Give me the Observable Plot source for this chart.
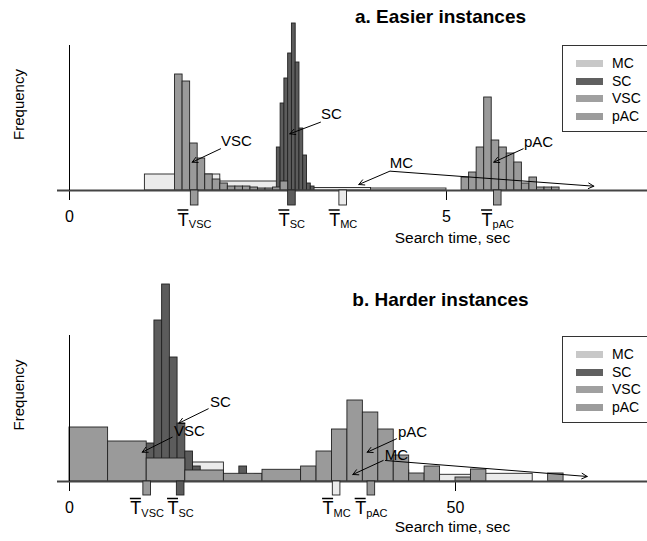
<!DOCTYPE html>
<html><head><meta charset="utf-8">
<script src="https://cdn.jsdelivr.net/npm/d3@7"></script>
<script src="https://cdn.jsdelivr.net/npm/@observablehq/plot@0.6"></script>
<style>
body{margin:0;background:#fff;}
#wrap{position:relative;width:647px;height:541px;overflow:hidden;font-family:"Liberation Sans",Arial,sans-serif;background:#fff;}
#wrap svg{display:block;}
.legend{position:absolute;left:562px;width:120px;height:87px;border:1px solid #333;box-sizing:border-box;background:#fff;}
.legend .row{position:absolute;left:0;height:16px;width:120px;}
.legend .sw{position:absolute;left:13px;top:5px;width:27px;height:7px;}
.legend .lb{position:absolute;left:49px;top:0;font-size:14px;line-height:16px;color:#000;}
</style></head><body><div id="wrap"></div><script>
// ---------- data: panel a (easier instances), search time in sec ----------
const aMcEdges = [1, 2, 3, 4, 5];
const aMcCounts = [16, 9, 2.5, 2];
const aScStart = 2.75, aScWidth = 0.05;
const aScCounts = [43, 87, 112, 137, 167, 128, 62, 35, 7, 4];
const aVscStart = 1.4, aVscWidth = 0.1;
const aVscCounts = [116, 109, 47, 32, 16, 11, 7, 4, 4, 4, 3, 2, 2, 3, 9];
const aPacStart = 5.2, aPacWidth = 0.1;
const aPacCounts = [13, 18, 43, 93, 50, 43, 37, 28, 7, 13, 3, 3, 3];
const aMeans = [1.66, 2.95, 3.63, 5.68];
const aTicks = [0, 5];
const aLabels = [["VSC", 2.215, 49], ["SC", 3.475, 76], ["MC", 4.403, 27], ["pAC", 6.22, 48]];
const aArrows = [[2.003, 41.7, 1.627, 28.3], [3.329, 68.3, 2.922, 56.7], [4.248, 19.3, 3.837, 6], [4.257, 19.3, 6.954, 4.3], [6.017, 41.7, 5.627, 28.3]];

// ---------- data: panel b (harder instances) ----------
const bMcEdges = [16, 20, 24, 28, 32, 36, 40, 44, 48, 52, 60];
const bMcCounts = [19, 6, 7, 10, 13, 14, 11, 6, 6.7, 7.7];
const bScStart = 10, bScWidth = 1;
const bScCounts = [38, 161, 197, 124, 58, 30, 15, 9, 7, 6, 5, 4, 15, 3];
const bVscStart = 0, bVscWidth = 5;
const bVscCounts = [54, 40, 23, 11, 7.7, 11.7];
const bPacStart = 30, bPacWidth = 2;
const bPacCounts = [15, 30, 52, 81, 69, 52, 26, 8, 15, 0, 4, 12, 0, 0, 0, 0, 8];
const bMeans = [10.06, 14.4, 34.6, 39.1];
const bTicks = [0, 50];
const bLabels = [["SC", 19.56, 79], ["VSC", 15.54, 50], ["pAC", 44.43, 49], ["MC", 42.36, 26]];
const bArrows = [[17.97, 72.7, 14.16, 58.3], [13.3, 44.3, 9.42, 29.3], [42.36, 42.7, 38.56, 29.3], [40.63, 21, 36.7, 7], [40.93, 21, 67.06, 5]];

const meanNames = ["VSC", "SC", "MC", "pAC"];
const legendNames = ["MC", "SC", "VSC", "pAC"];
const legendColors = ["#c8c8c8", "#606060", "#a0a0a0", "#9c9c9c"];
const barFill = {MC: "#ebebeb", SC: "#5c5c5c", VSC: "#9a9a9a", pAC: "#9a9a9a"};

function fromStart(start, width, counts) {
  return counts.map((c, i) => ({x1: start + i * width, x2: start + (i + 1) * width, y: c})).filter(d => d.y > 0);
}
function fromEdges(edges, counts) {
  return counts.map((c, i) => ({x1: edges[i], x2: edges[i + 1], y: c})).filter(d => d.y > 0);
}
const charW = {V: .667, S: .667, C: .722, M: .833, p: .556, A: .667};

function panel(o) {
  const plotW = 647, ml = 69;
  const ppu = (plotW - ml) / o.xmax;
  const means = meanNames.map((n, i) => {
    const subW = [...n].reduce((s, ch) => s + charW[ch] * 11, 0);
    const tot = 11 + subW;
    const xT = o.means[i] - tot / 2 / ppu;
    return {n, m: o.means[i], xT, xS: xT + 11 / ppu, xE: xT + 11 / ppu};
  });
  const hw = 3.8 / ppu;
  const rectOpts = (fill) => ({x1: "x1", x2: "x2", y1: 0, y2: "y", fill, stroke: "#222", strokeWidth: 0.9});
  return Plot.plot({
    width: plotW, height: o.height,
    marginLeft: ml, marginRight: 0, marginTop: o.mt, marginBottom: o.mb,
    x: {domain: [0, o.xmax], ticks: o.ticks, tickSize: 10, tickPadding: 10, tickFormat: d => String(d), label: null},
    y: {domain: [0, o.ymax], axis: null},
    color: {type: "identity"},
    style: {fontFamily: "Liberation Sans, Arial, sans-serif", fontSize: "16px", color: "#000", background: "transparent", overflow: "visible"},
    marks: [
      Plot.rect(o.mc, rectOpts(barFill.MC)),
      Plot.rect(o.sc, rectOpts(barFill.SC)),
      Plot.rect(o.vsc, rectOpts(barFill.VSC)),
      Plot.rect(o.pac, rectOpts(barFill.pAC)),
      Plot.ruleY([0], {x1: -12 / ppu, x2: o.xmax, stroke: "#444", strokeWidth: 2}),
      Plot.ruleX([0], {y1: 0, y2: o.ymax, stroke: "#000", strokeWidth: 1}),
      Plot.rect(means, {x1: d => d.m - hw, x2: d => d.m + hw, y1: 0, y2: -o.meanH,
        fill: d => barFill[d.n], stroke: "#222", strokeWidth: 0.9}),
      Plot.text(means, {x: "xT", y: 0, text: () => "T", textAnchor: "start", lineAnchor: "middle", dy: o.tDy, fontSize: 18}),
      Plot.ruleY(means, {y: 0, x1: "xT", x2: "xE", dy: o.tDy - 10, stroke: "#000", strokeWidth: 1.5}),
      Plot.text(means, {x: "xS", y: 0, text: "n", textAnchor: "start", lineAnchor: "middle", dy: o.tDy + 4.5, fontSize: 11}),
      Plot.arrow(o.arrows, {x1: d => d[0], y1: d => d[1], x2: d => d[2], y2: d => d[3], stroke: "#000", strokeWidth: 1, headLength: 9, headAngle: 55}),
      Plot.text(o.labels, {x: d => d[1], y: d => d[2], text: d => d[0], fontSize: 15, textAnchor: "middle", lineAnchor: "middle"}),
      Plot.text([o.title], {text: d => d, frameAnchor: "top", dx: 82, dy: o.titleDy, fontSize: 19, fontWeight: "bold", textAnchor: "middle", lineAnchor: "middle"}),
      Plot.text(["Search time, sec"], {text: d => d, frameAnchor: "bottom", dx: 94, dy: o.xlabDy, fontSize: 15.5, textAnchor: "middle", lineAnchor: "middle"}),
      Plot.text(["Frequency"], {text: d => d, frameAnchor: "left", dx: -50, dy: -13.5, rotate: -90, fontSize: 15, textAnchor: "middle", lineAnchor: "middle"})
    ]
  });
}

const wrap = document.getElementById("wrap");
wrap.appendChild(panel({
  height: 270, mt: 45, mb: 80, xmax: 7.666, ymax: 145, ticks: aTicks, means: aMeans, meanH: 15, tDy: 29.5,
  mc: fromEdges(aMcEdges, aMcCounts), sc: fromStart(aScStart, aScWidth, aScCounts),
  vsc: fromStart(aVscStart, aVscWidth, aVscCounts), pac: fromStart(aPacStart, aPacWidth, aPacCounts),
  labels: aLabels, arrows: aArrows, title: "a. Easier instances", titleDy: -29, xlabDy: 48
}));
wrap.appendChild(panel({
  height: 271, mt: 65, mb: 60, xmax: 74.87, ymax: 146, ticks: bTicks, means: bMeans, meanH: 14, tDy: 27,
  mc: fromEdges(bMcEdges, bMcCounts), sc: fromStart(bScStart, bScWidth, bScCounts),
  vsc: fromStart(bVscStart, bVscWidth, bVscCounts), pac: fromStart(bPacStart, bPacWidth, bPacCounts),
  labels: bLabels, arrows: bArrows, title: "b. Harder instances", titleDy: -36, xlabDy: 46
}));

function addLegend(top) {
  const box = document.createElement("div");
  box.className = "legend";
  box.style.top = top + "px";
  legendNames.forEach((n, i) => {
    const row = document.createElement("div");
    row.className = "row";
    row.style.top = (9 + i * 17.7) + "px";
    const sw = document.createElement("div");
    sw.className = "sw";
    sw.style.background = legendColors[i];
    const lb = document.createElement("div");
    lb.className = "lb";
    lb.textContent = n;
    row.appendChild(sw); row.appendChild(lb);
    box.appendChild(row);
  });
  wrap.appendChild(box);
}
addLegend(45);
addLegend(336);
</script></body></html>
